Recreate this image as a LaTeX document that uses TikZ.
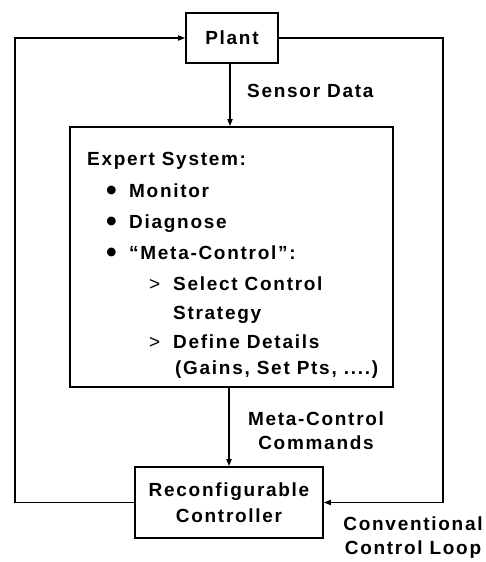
\documentclass[tikz,border=0pt]{standalone}
\usepackage{fontspec}
\setmainfont{Liberation Sans}[LetterSpace=9]
\usetikzlibrary{arrows.meta, positioning}

\newcommand{\bigbul}{\makebox[23pt][l]{\raisebox{-0.17em}{\scalebox{1.6}{•}}}}
\newcommand{\gtmark}{\makebox[24pt][l]{\mdseries >}}

\begin{document}
\begin{tikzpicture}[x=1pt, y=-1pt, >={Triangle[length=7pt, width=5pt]},
            blk/.style={rectangle, draw, line width=1.6pt, inner sep=0pt, align=center, font=\fontsize{19}{26}\selectfont\bfseries},
            txt/.style={inner sep=0pt, anchor=base west, font=\fontsize{19}{26}\selectfont\bfseries},
            lbl/.style={inner sep=0pt, align=center, font=\fontsize{19}{24}\selectfont\bfseries},
            wire/.style={line width=1.6pt}]

            \useasboundingbox (0,0) rectangle (486,562);

            % Nodes
            \node[blk, minimum width=92pt, minimum height=50pt] (plant) at (232,38) {Plant};
            \node[blk, minimum width=323pt, minimum height=260pt] (expert) at (231.5,257) {};
            \node[blk, minimum width=188pt, minimum height=71pt] (ctrl) at (229,502.5) {Reconfigurable\\Controller};

            \node[txt] (head) at (87,165) {Expert System:};
            \node[txt] (mon) at (106,197) {\bigbul Monitor};
            \node[txt] (diag) at (106,228) {\bigbul Diagnose};
            \node[txt] (meta) at (106,259) {\bigbul “Meta-Control”:};
            \node[txt] (sel) at (149,290) {\gtmark Select Control};
            \node[txt] (strat) at (173,319) {Strategy};
            \node[txt] (def) at (149,348) {\gtmark Define Details};
            \node[txt] (gain) at (175,374) {(Gains, Set Pts, ....)};

            \node[txt] (sens) at (247,97) {Sensor Data};
            \node[lbl] (cmds) at (316,431) {Meta-Control\\Commands};
            \node[lbl] (conv) at (413,538) {Conventional\\Control Loop};

            \coordinate (lc) at (15,270);
            \coordinate (rc) at (443,270);

        % Edges
        \draw[->, wire] (plant.south -| 230,0) -- (expert.north -| 230,0);
        \draw[->, wire] (expert.south -| ctrl.north) -- (ctrl.north);
        \draw[->, wire] (ctrl.west) -| (lc) |- (plant.west);
        \draw[->, wire] (plant.east) -| (rc) |- (ctrl.east);
    \end{tikzpicture}
\end{document}
